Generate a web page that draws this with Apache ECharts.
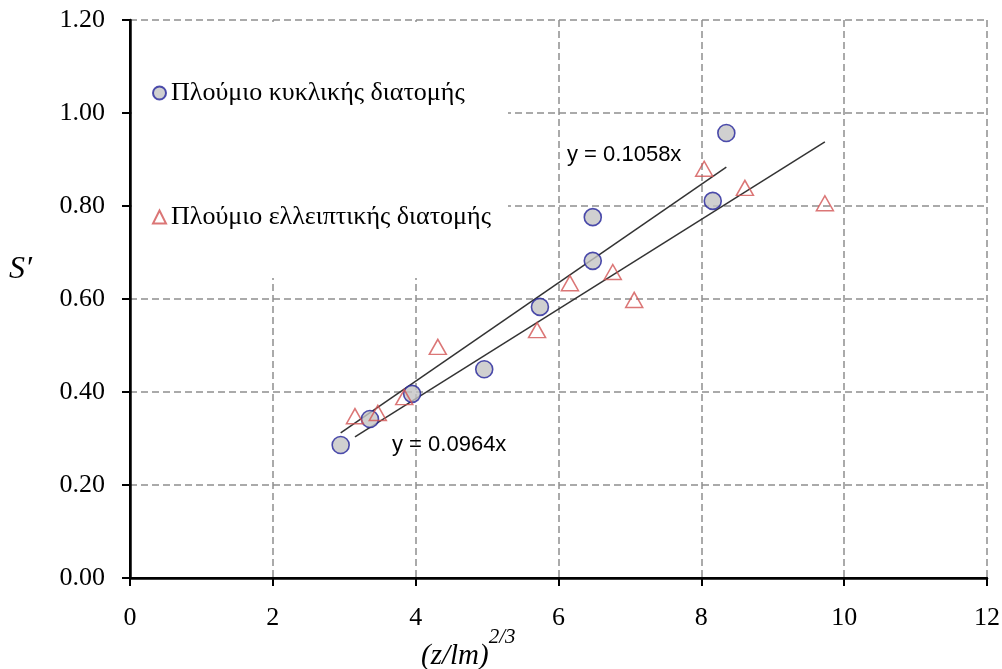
<!DOCTYPE html>
<html>
<head>
<meta charset="utf-8">
<script src="https://cdn.jsdelivr.net/npm/echarts@6/dist/echarts.min.js"></script>
<style>
  html, body { margin: 0; padding: 0; background: #fff; }
  #chart { width: 1002px; height: 669px; }
</style>
</head>
<body>
<div id="chart"></div>
<script>
// Circular-section plume measurements: x = (z/lm)^(2/3), y = S'
const circX = [2.95, 3.36, 3.95, 4.96, 5.74, 6.48, 6.48, 8.16, 8.35];
const circY = [0.286, 0.342, 0.396, 0.449, 0.583, 0.682, 0.776, 0.811, 0.957];
// Elliptical-section plume measurements
const ellX = [3.15, 3.47, 3.84, 4.31, 5.70, 6.16, 6.76, 7.06, 8.04, 8.61, 9.73];
const ellY = [0.348, 0.355, 0.389, 0.497, 0.533, 0.634, 0.658, 0.598, 0.880, 0.839, 0.806];
// Fitted slopes of the linear trends through the origin
const circSlope = 0.1058;
const ellSlope = 0.0964;

const seriesNames = ['Πλούμιο κυκλικής διατομής', 'Πλούμιο ελλειπτικής διατομής'];
const xTicks = [0, 2, 4, 6, 8, 10, 12];
const yTicks = [0, 0.2, 0.4, 0.6, 0.8, 1.0, 1.2];

const pairs = (xs, ys) => xs.map((x, i) => [x, ys[i]]);
const trend = (xs, k) => {
  const lo = Math.min(...xs), hi = Math.max(...xs);
  return [[lo, k * lo], [hi, k * hi]];
};

const SERIF = '"Liberation Serif", "Times New Roman", serif';
const SANS = '"Liberation Sans", Arial, sans-serif';
const gridDash = { color: '#8e8e8e', width: 1.5, type: [7, 4] };

const chart = echarts.init(document.getElementById('chart'), null, { renderer: 'canvas' });

chart.setOption({
  animation: false,
  backgroundColor: '#ffffff',
  grid: { left: 130, right: 15, top: 20, bottom: 91, containLabel: false, outerBoundsMode: 'none' },
  xAxis: [
    {
      type: 'value', position: 'bottom', min: xTicks[0], max: xTicks[xTicks.length - 1], interval: 2,
      axisLine: { show: true, onZero: false, lineStyle: { color: '#000', width: 2.5 } },
      axisTick: { show: true, inside: false, length: 8, lineStyle: { color: '#000', width: 2 } },
      axisLabel: { color: '#000', fontFamily: SERIF, fontSize: 26, margin: 27 },
      splitLine: { show: true, lineStyle: gridDash }
    },
    {
      type: 'value', position: 'top', min: xTicks[0], max: xTicks[xTicks.length - 1], interval: 2, z: 3,
      axisLine: { show: true, lineStyle: { color: '#000', width: 2 } },
      axisTick: { show: true, inside: true, length: 5, lineStyle: { color: '#000', width: 1 } },
      axisLabel: { show: false },
      splitLine: { show: false }
    }
  ],
  yAxis: [
    {
      type: 'value', position: 'left', min: yTicks[0], max: yTicks[yTicks.length - 1], interval: 0.2,
      axisLine: { show: true, onZero: false, lineStyle: { color: '#000', width: 2.5 } },
      axisTick: { show: true, inside: false, length: 8, lineStyle: { color: '#000', width: 2 } },
      axisLabel: { color: '#000', fontFamily: SERIF, fontSize: 26, margin: 25, formatter: v => v.toFixed(2) },
      splitLine: { show: true, lineStyle: gridDash }
    },
    {
      type: 'value', position: 'right', min: yTicks[0], max: yTicks[yTicks.length - 1], interval: 0.2, z: 3,
      axisLine: { show: true, lineStyle: { color: '#000', width: 2 } },
      axisTick: { show: false },
      axisLabel: { show: false },
      splitLine: { show: false }
    }
  ],
  legend: {
    data: [
      { name: seriesNames[0], icon: 'circle' },
      { name: seriesNames[1], icon: 'triangle' }
    ],
    orient: 'vertical',
    left: 147, top: 75,
    itemWidth: 13, itemHeight: 13, itemGap: 98,
    textStyle: { fontFamily: SERIF, fontSize: 26, color: '#000' },
    selectedMode: false,
    z: 4
  },
  graphic: [
    // white panel behind the legend, hiding the grid there
    { type: 'rect', left: 132, top: 22, shape: { width: 376, height: 256 }, style: { fill: '#fff' }, z: 1, silent: true },
    { type: 'text', left: 567, top: 144, z: 5,
      style: { text: 'y = 0.1058x', font: '22px ' + SANS, fill: '#000' } },
    { type: 'text', left: 392, top: 434, z: 5,
      style: { text: 'y = 0.0964x', font: '22px ' + SANS, fill: '#000' } },
    { type: 'text', left: 9, top: 254, z: 5,
      style: { text: 'S′', font: 'italic 32px ' + SERIF, fill: '#000' } },
    { type: 'text', left: 421, top: 627, z: 5,
      style: {
        text: '{a|(z/lm)}{b|2/3}',
        rich: {
          a: { fontFamily: SERIF, fontStyle: 'italic', fontSize: 29, fill: '#000', verticalAlign: 'bottom', lineHeight: 44 },
          b: { fontFamily: SERIF, fontStyle: 'italic', fontSize: 21, fill: '#000', verticalAlign: 'top', lineHeight: 44 }
        }
      } }
  ],
  series: [
    {
      name: seriesNames[0], type: 'scatter', z: 3,
      data: pairs(circX, circY),
      symbol: 'circle', symbolSize: 17,
      itemStyle: { color: '#c4c4c4', borderColor: '#22229a', borderWidth: 1.6 }
    },
    {
      name: seriesNames[1], type: 'scatter', z: 3,
      data: pairs(ellX, ellY),
      symbol: 'triangle', symbolSize: [17, 15],
      itemStyle: { color: 'rgba(255,255,255,0)', borderColor: '#d25454', borderWidth: 1.5 }
    },
    {
      name: 'trend-circ', type: 'line', z: 2,
      data: trend(circX, circSlope), symbol: 'none',
      lineStyle: { color: '#333', width: 1.5 }
    },
    {
      name: 'trend-ell', type: 'line', z: 2,
      data: trend(ellX, ellSlope), symbol: 'none',
      lineStyle: { color: '#333', width: 1.5 }
    }
  ]
});
</script>
</body>
</html>
